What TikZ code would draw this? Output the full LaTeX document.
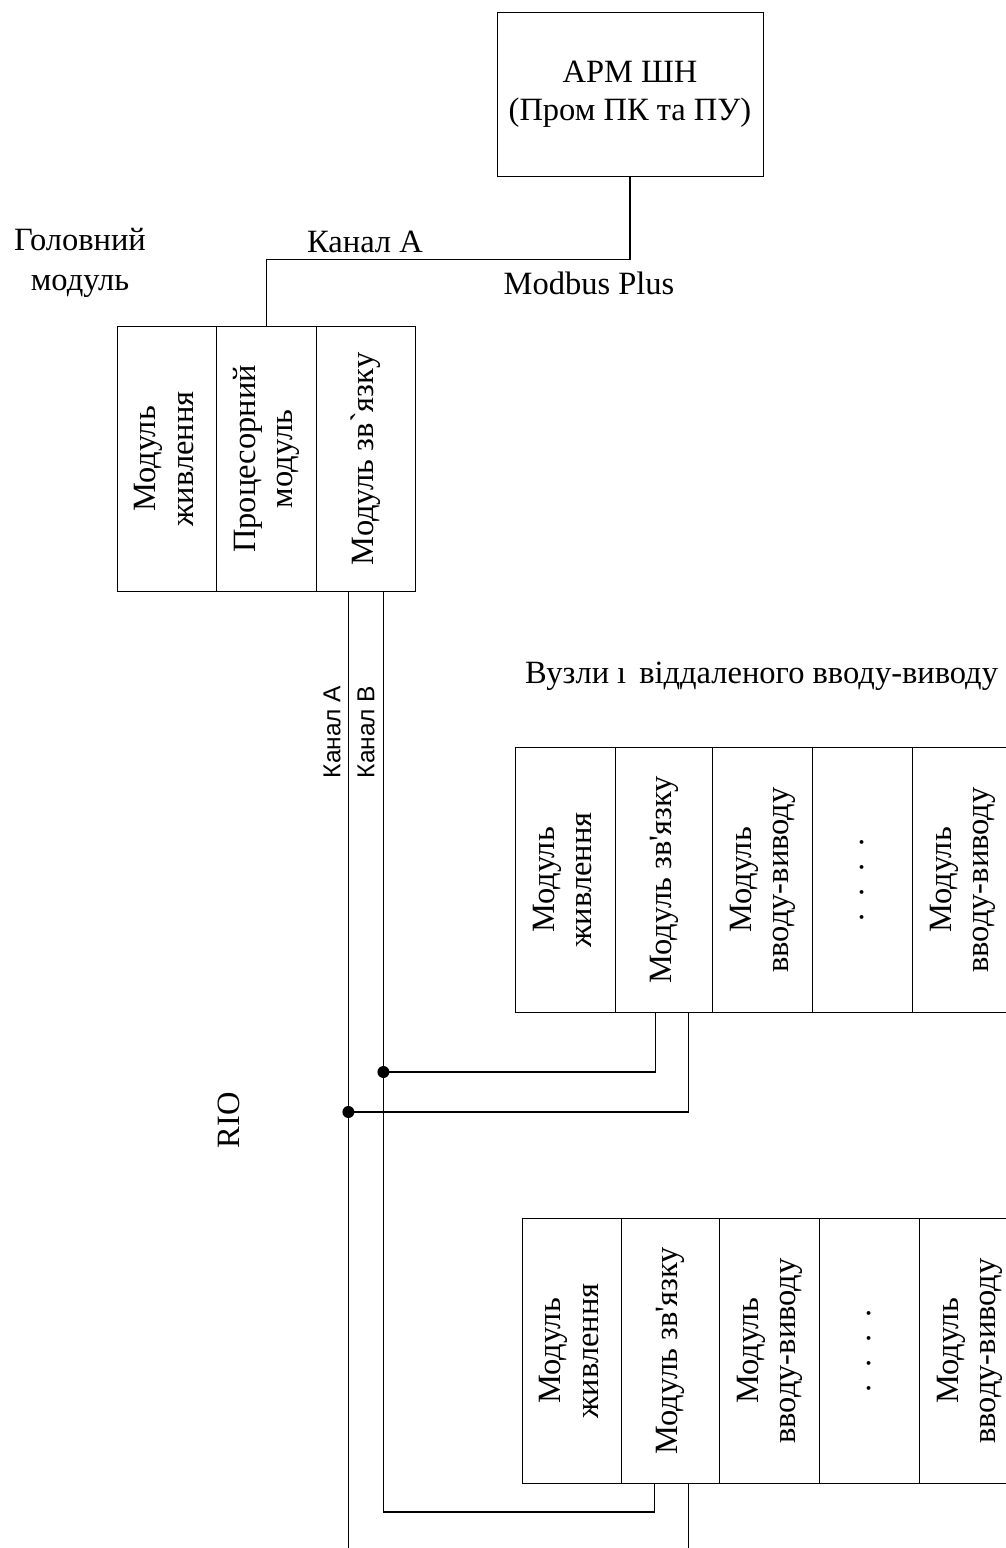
\documentclass[tikz,border=0pt]{standalone}
\usepackage{fontspec}
\newfontfamily\ser{Liberation Serif}
\newfontfamily\sans{Liberation Sans}
\usetikzlibrary{calc}
\newcommand\vtext[1]{\rotatebox{90}{\begin{tabular}{@{}c@{}}#1\end{tabular}}}
\newcommand\vdotsrow{\rotatebox{90}{.\hspace{17pt}.\hspace{17pt}.\hspace{17pt}.}}
\tikzset{
  modbox/.style={draw, line width=0.8pt, inner sep=0pt, minimum height=265pt, anchor=north west},
  wire/.style={line width=1.4pt},
  junction/.style={circle, fill, inner sep=0pt, minimum width=12pt, minimum height=11pt},
  lbl/.style={inner sep=0pt},
  chlbl/.style={inner sep=0pt, rotate=90, font=\sans\fontsize{24.5}{28}\selectfont},
}
\begin{document}
\begin{tikzpicture}[x=1pt,y=-1pt,font=\ser\fontsize{32.5}{37.5}\selectfont]
\useasboundingbox (0,0) rectangle (1006,1548);

% top workstation
\node[draw, line width=0.8pt, minimum width=266pt, minimum height=164pt, align=center, inner sep=0pt] (arm) at (630,94) {АРМ ШН\\(Пром ПК та ПУ)};

% head module
\node[modbox, minimum width=99pt]  (h1) at (117,326) {\vtext{Модуль\\живлення}};
\node[modbox, minimum width=100pt] (h2) at (216,326) {\vtext{Процесорний\\модуль}};
\node[modbox, minimum width=99pt]  (h3) at (316,326) {\vtext{Модуль зв`язку}};

% remote node 1
\node[modbox, minimum width=100pt] (a1) at (515,747) {\vtext{Модуль\\живлення}};
\node[modbox, minimum width=97pt]  (a2) at (615,747) {\vtext{Модуль зв'язку}};
\node[modbox, minimum width=100pt] (a3) at (712,747) {\vtext{Модуль\\вводу-виводу}};
\node[modbox, minimum width=100pt] (a4) at (812,747) {\vdotsrow};
\node[modbox, minimum width=100pt] (a5) at (912,747) {\vtext{Модуль\\вводу-виводу}};

% remote node 2
\node[modbox, minimum width=99pt]  (b1) at (522,1218) {\vtext{Модуль\\живлення}};
\node[modbox, minimum width=98pt]  (b2) at (621,1218) {\vtext{Модуль зв'язку}};
\node[modbox, minimum width=100pt] (b3) at (719,1218) {\vtext{Модуль\\вводу-виводу}};
\node[modbox, minimum width=100pt] (b4) at (819,1218) {\vdotsrow};
\node[modbox, minimum width=100pt] (b5) at (919,1218) {\vtext{Модуль\\вводу-виводу}};

% labels
\node[lbl, align=center] (hm) at (80,263) {Головний\\[2.5pt]модуль};
\node[lbl, anchor=base] (ka) at (365,252) {Канал А};
\node[lbl, anchor=base] (mb) at (589,294) {Modbus Plus};
\node[lbl, anchor=base west] (vz) at (525,683) {Вузли ı\hspace{13pt}віддаленого вводу-виводу};
\node[lbl, rotate=90] (rio) at (229,1120) {RIO};
\node[chlbl] (cha) at (332,732) {Канал А};
\node[chlbl] (chb) at (366,732) {Канал В};

% Modbus Plus link
\draw[wire] (arm.south) -- ++(0,83) -| (h2.north);

% RIO buses
\coordinate (busA) at ([xshift=-17.5pt]h3.south);
\coordinate (busB) at ([xshift=17.5pt]h3.south);
\coordinate (busAend) at (busA |- 0,1548);
\coordinate (busBturn) at (busB |- 0,1512);
\coordinate (b2tail) at ([xshift=18pt]b2.south |- 0,1548);
\draw[wire] (busA) -- (busAend);
\draw[wire] (busB) -- (busBturn) -| ([xshift=-16pt]b2.south);
\draw[wire] ([xshift=18pt]b2.south) -- (b2tail);

\node[junction] (jB) at (busB |- 0,1072) {};
\node[junction] (jA) at (busA |- 0,1112) {};
\draw[wire] (jB.center) -| ([xshift=-8.5pt]a2.south);
\draw[wire] (jA.center) -| ([xshift=24.5pt]a2.south);
\end{tikzpicture}
\end{document}
